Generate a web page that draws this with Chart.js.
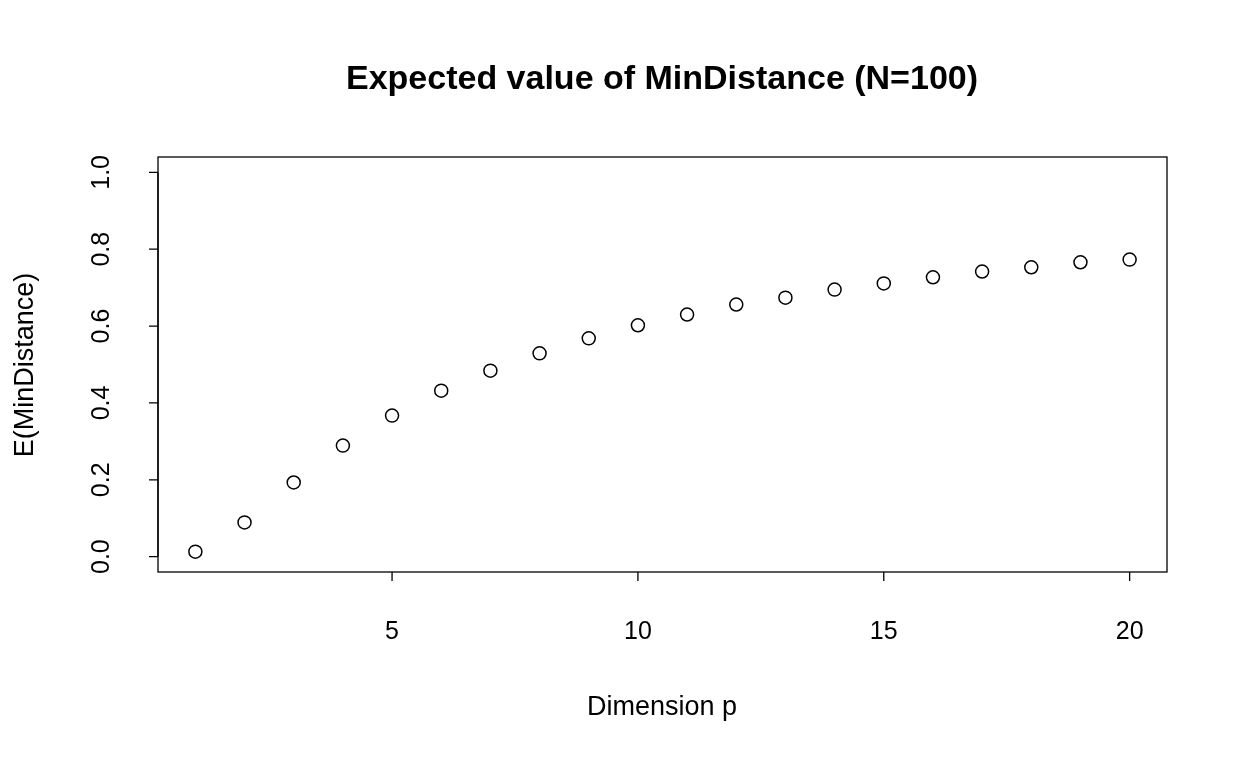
<!DOCTYPE html>
<html><head><meta charset="utf-8">
<script src="https://cdn.jsdelivr.net/npm/chart.js@4"></script>
<style>html,body{margin:0;padding:0;background:#fff}#wrap{width:1248px;height:768px}</style>
</head><body><div id="wrap"><canvas id="c" width="1248" height="768"></canvas></div>
<script>
const dims = [1,2,3,4,5,6,7,8,9,10,11,12,13,14,15,16,17,18,19,20];
const values = [0.013,0.089,0.193,0.289,0.367,0.432,0.484,0.529,0.568,0.602,0.630,0.656,0.674,0.695,0.711,0.727,0.742,0.753,0.766,0.773];
const xTicks = [5,10,15,20];
const yTicks = [0.0,0.2,0.4,0.6,0.8,1.0];
const yTickLabels = ["0.0","0.2","0.4","0.6","0.8","1.0"];
const titleText = "Expected value of MinDistance (N=100)";
const xTitle = "Dimension p";
const yTitle = "E(MinDistance)";

const axesPlugin = {
  id:'rAxes',
  afterDraw(chart){
    const {ctx, chartArea:a, scales:{x,y}} = chart;
    ctx.save();
    ctx.strokeStyle='#000'; ctx.fillStyle='#000'; ctx.lineWidth=1.3;
    ctx.strokeRect(a.left, a.top, a.right-a.left, a.bottom-a.top);
    ctx.beginPath();
    xTicks.forEach(t=>{const px=x.getPixelForValue(t);ctx.moveTo(px,a.bottom);ctx.lineTo(px,a.bottom+9);});
    ctx.moveTo(a.left, y.getPixelForValue(yTicks[0]));
    ctx.lineTo(a.left, y.getPixelForValue(yTicks[yTicks.length-1]));
    yTicks.forEach(t=>{const py=y.getPixelForValue(t);ctx.moveTo(a.left,py);ctx.lineTo(a.left-9,py);});
    ctx.stroke();
    ctx.font='25px "Liberation Sans", Arial, sans-serif';
    ctx.textAlign='center'; ctx.textBaseline='middle';
    xTicks.forEach(t=>ctx.fillText(String(t), x.getPixelForValue(t), 632));
    yTicks.forEach((t,i)=>{ctx.save();ctx.translate(102,y.getPixelForValue(t));ctx.rotate(-Math.PI/2);ctx.fillText(yTickLabels[i],0,0);ctx.restore();});
    ctx.font='27px "Liberation Sans", Arial, sans-serif';
    ctx.fillText(xTitle, 662, 708);
    ctx.save();ctx.translate(26,365);ctx.rotate(-Math.PI/2);ctx.fillText(yTitle,0,0);ctx.restore();
    ctx.font='bold 34px "Liberation Sans", Arial, sans-serif';
    ctx.fillText(titleText, 662, 80);
    ctx.restore();
  }
};

new Chart(document.getElementById('c'), {
  type:'scatter',
  data:{datasets:[{data:dims.map((d,i)=>({x:d,y:values[i]})),
    pointRadius:6.5, pointHoverRadius:6.5, pointBorderColor:'#000', pointBackgroundColor:'rgba(0,0,0,0)', pointBorderWidth:1.5}]},
  options:{
    responsive:false, animation:false, devicePixelRatio:1,
    layout:{padding:{left:158,right:81,top:157,bottom:196}},
    plugins:{legend:{display:false},tooltip:{enabled:false}},
    scales:{
      x:{type:'linear',display:false,min:0.24,max:20.76},
      y:{type:'linear',display:false,min:-0.04,max:1.04}
    }
  },
  plugins:[axesPlugin]
});
</script></body></html>
